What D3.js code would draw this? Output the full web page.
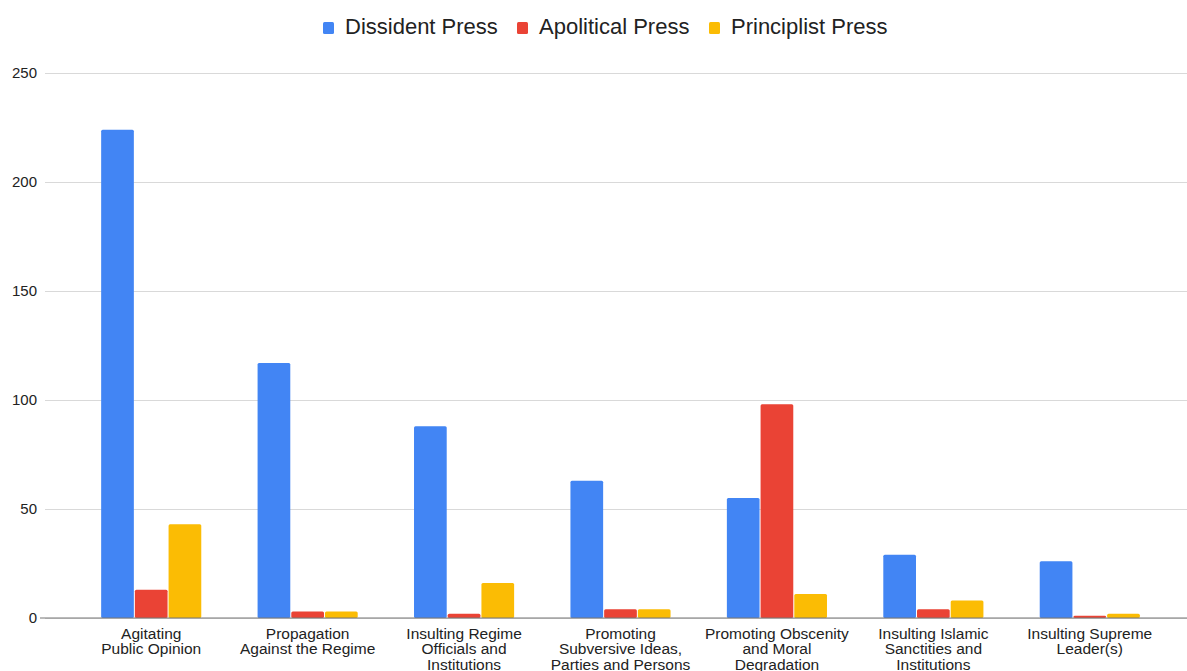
<!DOCTYPE html>
<html>
<head>
<meta charset="utf-8">
<script src="https://cdn.jsdelivr.net/npm/d3@7"></script>
<style>
  body { margin: 0; background: #fff; }
  svg { font-family: "Liberation Sans", Arial, sans-serif; }
</style>
</head>
<body>
<svg id="chart" width="1187" height="671"></svg>
<script>
var categories = [
    ["Agitating", "Public Opinion"],
    ["Propagation", "Against the Regime"],
    ["Insulting Regime", "Officials and", "Institutions"],
    ["Promoting", "Subversive Ideas,", "Parties and Persons"],
    ["Promoting Obscenity", "and Moral", "Degradation"],
    ["Insulting Islamic", "Sanctities and", "Institutions"],
    ["Insulting Supreme", "Leader(s)"]
];
var series_names = ["Dissident Press", "Apolitical Press", "Principlist Press"];
var series_colors = ["#4285f4", "#ea4335", "#fbbc04"];
var dissident = [224, 117, 88, 63, 55, 29, 26];
var apolitical = [13, 3, 2, 4, 98, 4, 1];
var principlist = [43, 3, 16, 4, 11, 8, 2];
var y_ticks = [0, 50, 100, 150, 200, 250];

var svg = d3.select("#chart");
var all_series = [dissident, apolitical, principlist];

var x = d3.scaleBand()
    .domain(d3.range(categories.length))
    .range([73, 1168])
    .paddingInner(0.36)
    .paddingOuter(0.18);

var x_inner = d3.scaleBand()
    .domain(d3.range(series_names.length))
    .range([0, x.bandwidth()])
    .paddingInner(0.03);

var y = d3.scaleLinear().domain([0, 250]).range([618, 73]);

// grid lines + y labels
var y_axis = d3.axisLeft(y).tickValues(y_ticks).tickSize(-1142).tickPadding(8);
var gy = svg.append("g").attr("transform", "translate(45,0)").call(y_axis);
gy.select(".domain").remove();
gy.selectAll(".tick line").attr("stroke", "#d9d9d9").attr("stroke-width", 1);
gy.selectAll(".tick text")
    .attr("font-size", 15)
    .attr("fill", "#222")
    .attr("x", -8);

// bars
var groups = svg.append("g").selectAll("g")
    .data(categories)
    .enter()
    .append("g")
    .attr("transform", function (d, i) { return "translate(" + x(i) + ",0)"; });

groups.selectAll("rect")
    .data(function (d, i) {
        return all_series.map(function (s, k) { return { k: k, v: s[i] }; });
    })
    .enter()
    .append("rect")
    .attr("x", function (d) { return x_inner(d.k); })
    .attr("y", function (d) { return y(d.v); })
    .attr("width", x_inner.bandwidth())
    .attr("height", function (d) { return y(0) - y(d.v); })
    .attr("rx", 1.5)
    .attr("fill", function (d) { return series_colors[d.k]; });

// baseline
svg.append("line")
    .attr("x1", 40).attr("x2", 1187)
    .attr("y1", y(0)).attr("y2", y(0))
    .attr("stroke", "#777").attr("stroke-width", 1.2);

// category labels
var labels = svg.append("g").selectAll("text")
    .data(categories)
    .enter()
    .append("text")
    .attr("x", function (d, i) { return x(i) + x.bandwidth() / 2; })
    .attr("y", 639)
    .attr("text-anchor", "middle")
    .attr("font-size", 15.5)
    .attr("fill", "#222");

labels.selectAll("tspan")
    .data(function (d) { return d; })
    .enter()
    .append("tspan")
    .attr("x", function () { return d3.select(this.parentNode).attr("x"); })
    .attr("dy", function (d, j) { return j == 0 ? 0 : 15.3; })
    .text(function (d) { return d; });

// legend
var legend_x = [323, 517, 709];
var legend = svg.append("g").selectAll("g")
    .data(series_names)
    .enter()
    .append("g")
    .attr("transform", function (d, i) { return "translate(" + legend_x[i] + ",22)"; });

legend.append("rect")
    .attr("width", 11).attr("height", 12).attr("y", 0).attr("rx", 1.5)
    .attr("fill", function (d, i) { return series_colors[i]; });

legend.append("text")
    .attr("x", 22).attr("y", 12)
    .attr("font-size", 22)
    .attr("fill", "#222")
    .text(function (d) { return d; });
</script>
</body>
</html>
